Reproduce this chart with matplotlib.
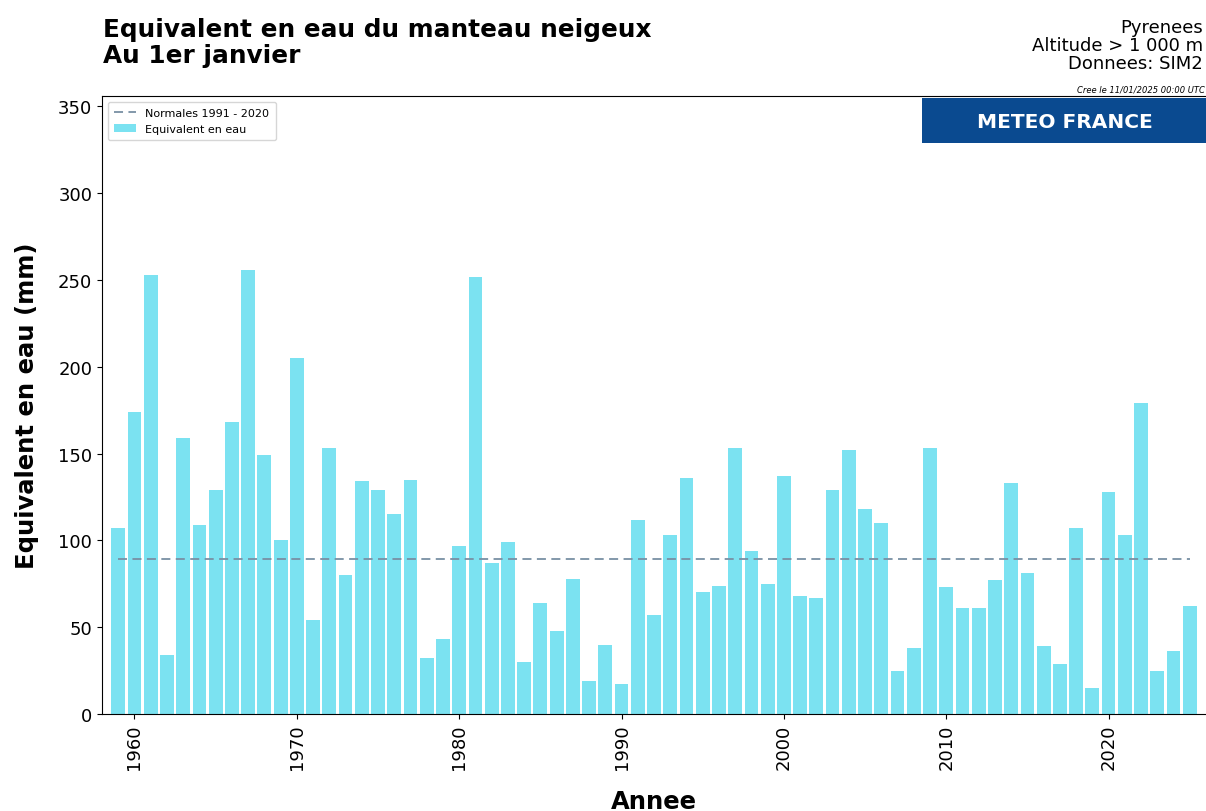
import numpy as np
import matplotlib.pyplot as plt
from matplotlib.patches import Rectangle

# Equivalent en eau au 1er janvier, Pyrenees > 1000 m (mm)
years = np.arange(1959, 2026)
swe = [107, 174, 253, 34, 159, 109, 129, 168, 256, 149,
       100, 205, 54, 153, 80, 134, 129, 115, 135, 32,
       43, 97, 252, 87, 99, 30, 64, 48, 78, 19,
       40, 17, 112, 57, 103, 136, 70, 74, 153, 94,
       75, 137, 68, 67, 129, 152, 118, 110, 25, 38,
       153, 73, 61, 61, 77, 133, 81, 39, 29, 107,
       15, 128, 103, 179, 25, 36, 62]
normale = 89.5

fig = plt.figure(figsize=(12.06, 8.12), dpi=100)
ax = fig.add_axes([0.0846, 0.1195, 0.9154, 0.761])

ax.bar(years, swe, width=0.85, color="#7be2f1", label="Equivalent en eau", zorder=2)
ax.hlines(normale, years[0], years[-1], colors="#7890a4", linestyles=(0, (5, 3)),
          linewidth=1.3, label="Normales 1991 - 2020", zorder=3)

ax.set_xlim(1958, 2026)
ax.set_ylim(0, 356)
ax.set_yticks(np.arange(0, 351, 50))
ax.set_xticks(np.arange(1960, 2021, 10))
ax.tick_params(axis="x", labelrotation=90, labelsize=13)
ax.tick_params(axis="y", labelsize=13)
ax.spines["right"].set_visible(False)

ax.set_xlabel("Annee", fontsize=17.5, fontweight="bold", labelpad=14)
ax.set_ylabel("Equivalent en eau (mm)", fontsize=17.5, fontweight="bold", labelpad=14)

ax.legend(loc="upper left", fontsize=8, handlelength=2.0, borderpad=0.6)

fig.text(0.0855, 0.947, "Equivalent en eau du manteau neigeux\nAu 1er janvier",
         fontsize=17.8, fontweight="bold", ha="left", va="center", linespacing=1.12)
fig.text(0.9975, 0.943, "Pyrenees\nAltitude > 1 000 m\nDonnees: SIM2",
         fontsize=13, ha="right", va="center", linespacing=1.0)
fig.text(0.999, 0.884, "Cree le 11/01/2025 00:00 UTC", fontsize=6, style="italic",
         ha="right", va="bottom")

# Logo
fig.patches.append(Rectangle((922 / 1206, 1 - 144 / 812), (1206 - 922) / 1206, 45 / 812,
                             transform=fig.transFigure, facecolor="#0a4a90",
                             edgecolor="none", zorder=5))
fig.text(1065 / 1206, 1 - 122 / 812, "METEO FRANCE", color="white", fontsize=14.5,
         fontweight="heavy", ha="center", va="center", zorder=6)

fig.savefig("out.png", dpi=100)
